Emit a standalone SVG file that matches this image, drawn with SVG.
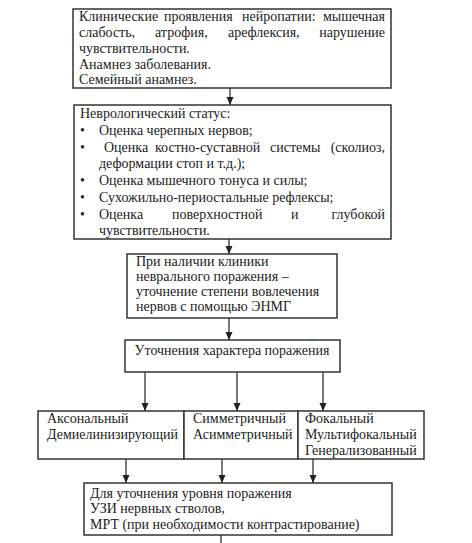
<svg xmlns="http://www.w3.org/2000/svg" width="472" height="543" viewBox="0 0 472 543" font-family="Liberation Serif, DejaVu Serif, serif">
<style>
.box{fill:#fff;stroke:#333;stroke-width:1.5}
text{font-family:"Liberation Serif","DejaVu Serif",serif;font-size:14px;fill:#222}
.e{text-anchor:end}
.c{stroke:#222;stroke-width:1.2;fill:none}
</style>
<defs>
<marker id="ah" viewBox="0 0 8 8" refX="8" refY="4" markerWidth="8" markerHeight="8" markerUnits="userSpaceOnUse" orient="auto">
<path d="M0,0.5 L8,4 L0,7.5 Z" fill="#222"/>
</marker>
</defs>
<rect width="472" height="543" fill="#fff"/>
<g id="connectors">
<line class="c" x1="230" y1="88" x2="230" y2="105" marker-end="url(#ah)"/>
<line class="c" x1="229" y1="239" x2="229" y2="254" marker-end="url(#ah)"/>
<line class="c" x1="229" y1="318" x2="229" y2="340" marker-end="url(#ah)"/>
<line class="c" x1="145" y1="372" x2="145" y2="411" marker-end="url(#ah)"/>
<line class="c" x1="237" y1="372" x2="237" y2="411" marker-end="url(#ah)"/>
<line class="c" x1="323" y1="372" x2="323" y2="411" marker-end="url(#ah)"/>
<line class="c" x1="126" y1="459" x2="126" y2="483" marker-end="url(#ah)"/>
<line class="c" x1="222" y1="459" x2="222" y2="483" marker-end="url(#ah)"/>
<line class="c" x1="313" y1="459" x2="313" y2="483" marker-end="url(#ah)"/>
<line class="c" x1="221" y1="535" x2="221" y2="543"/>
</g>
<g id="n1">
<rect class="box" x="73" y="9" width="318" height="79"/>
<text x="79" y="21">Клинические</text><text x="164" y="21">проявления</text><text x="242" y="21">нейропатии:</text><text class="e" x="385" y="21">мышечная</text>
<text x="79" y="37">слабость,</text><text x="155" y="37">атрофия,</text><text x="228" y="37">арефлексия,</text><text class="e" x="385" y="37">нарушение</text>
<text x="79" y="53">чувствительности.</text>
<text x="79" y="69">Анамнез заболевания.</text>
<text x="79" y="84">Семейный  анамнез.</text>
</g>
<g id="n2">
<rect class="box" x="74" y="105" width="317" height="134"/>
<text x="80" y="118">Неврологический  статус:</text>
<text x="80" y="135">•</text><text x="99" y="135">Оценка черепных  нервов;</text>
<text x="80" y="152">•</text><text x="104" y="152">Оценка</text><text x="155" y="152">костно-суставной</text><text x="270" y="152">системы</text><text class="e" x="385" y="152">(сколиоз,</text>
<text x="99" y="168">деформации  стоп и т.д.);</text>
<text x="80" y="185">•</text><text x="99" y="185">Оценка мышечного  тонуса  и силы;</text>
<text x="80" y="202">•</text><text x="99" y="202">Сухожильно-периостальные  рефлексы;</text>
<text x="80" y="219">•</text><text x="99" y="219">Оценка</text><text x="172" y="219">поверхностной</text><text x="291" y="219">и</text><text class="e" x="385" y="219">глубокой</text>
<text x="99" y="235">чувствительности.</text>
</g>
<g id="n3">
<rect class="box" x="127" y="254" width="210" height="64"/>
<text x="136" y="266">При наличии  клиники</text>
<text x="136" y="281">неврального поражения  –</text>
<text x="136" y="296">уточнение  степени  вовлечения</text>
<text x="136" y="311">нервов с помощью ЭНМГ</text>
</g>
<g id="n4">
<rect class="box" x="125" y="340" width="215" height="32"/>
<text x="232" y="355" text-anchor="middle">Уточнения  характера  поражения</text>
</g>
<g id="n5">
<rect class="box" x="38" y="411" width="146" height="48"/>
<text x="47" y="423">Аксональный</text>
<text x="47" y="439">Демиелинизирующий</text>
</g>
<g id="n6">
<rect class="box" x="184" y="411" width="114" height="48"/>
<text x="193" y="423">Симметричный</text>
<text x="193" y="439">Асимметричный</text>
</g>
<g id="n7">
<rect class="box" x="298" y="411" width="126" height="48"/>
<text x="305" y="423">Фокальный</text>
<text x="305" y="439">Мультифокальный</text>
<text x="305" y="455">Генерализованный</text>
</g>
<g id="n8">
<rect class="box" x="84" y="483" width="308" height="52"/>
<text x="90" y="498">Для уточнения  уровня поражения</text>
<text x="90" y="513">УЗИ нервных  стволов,</text>
<text x="90" y="529">МРТ (при необходимости  контрастирование)</text>
</g>
</svg>
